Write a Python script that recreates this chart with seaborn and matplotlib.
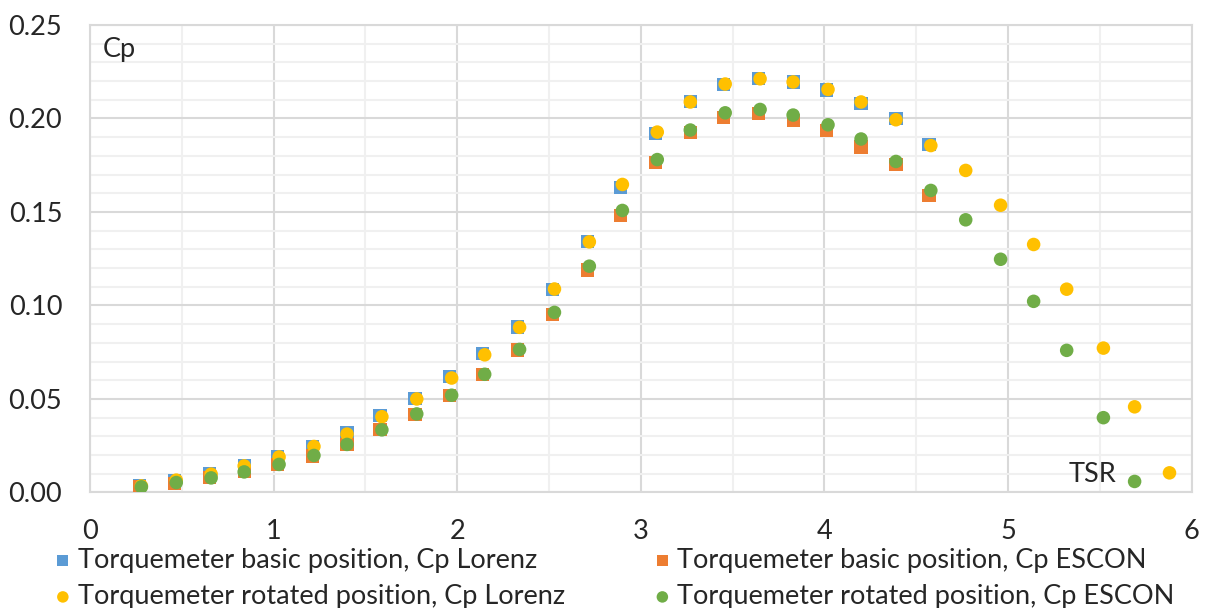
import matplotlib
matplotlib.use("Agg")
import matplotlib.pyplot as plt
import numpy as np
import pandas as pd
import seaborn as sns
from matplotlib.ticker import MultipleLocator

# TSR values (basic position measured slightly left of rotated ones)
tsr_basic = [0.27, 0.46, 0.65, 0.84, 1.02, 1.21, 1.40, 1.58, 1.77, 1.96, 2.14,
             2.33, 2.52, 2.71, 2.89, 3.08, 3.27, 3.45, 3.64, 3.83, 4.01, 4.20,
             4.39, 4.57]
tsr_rot = [0.28, 0.47, 0.66, 0.84, 1.03, 1.22, 1.40, 1.59, 1.78, 1.97, 2.15,
           2.34, 2.53, 2.72, 2.90, 3.09, 3.27, 3.46, 3.65, 3.83, 4.02, 4.20,
           4.39, 4.58, 4.77, 4.96, 5.14, 5.32, 5.52, 5.69, 5.88]

cp_basic_lorenz = [0.0035, 0.0062, 0.0100, 0.0142, 0.0190, 0.0248, 0.0318,
                   0.0410, 0.0502, 0.0618, 0.0742, 0.0885, 0.1085, 0.1340,
                   0.1630, 0.1918, 0.2090, 0.2180, 0.2212, 0.2195, 0.2152,
                   0.2078, 0.2000, 0.1860]
cp_basic_escon = [0.0030, 0.0050, 0.0078, 0.0110, 0.0148, 0.0195, 0.0255,
                  0.0335, 0.0418, 0.0518, 0.0630, 0.0762, 0.0950, 0.1190,
                  0.1480, 0.1765, 0.1925, 0.2005, 0.2025, 0.1990, 0.1936,
                  0.1847, 0.1752, 0.1590]
cp_rot_lorenz = [0.0035, 0.0066, 0.0098, 0.0142, 0.0190, 0.0246, 0.0312,
                 0.0405, 0.0500, 0.0612, 0.0736, 0.0883, 0.1088, 0.1340,
                 0.1647, 0.1927, 0.2088, 0.2184, 0.2212, 0.2195, 0.2155,
                 0.2088, 0.1993, 0.1855, 0.1722, 0.1536, 0.1326, 0.1087,
                 0.0772, 0.0458, 0.0105]
cp_rot_escon = [0.0030, 0.0053, 0.0078, 0.0110, 0.0150, 0.0198, 0.0257,
                0.0335, 0.0420, 0.0520, 0.0632, 0.0765, 0.0963, 0.1210,
                0.1508, 0.1780, 0.1938, 0.2030, 0.2048, 0.2018, 0.1966,
                0.1890, 0.1770, 0.1615, 0.1458, 0.1247, 0.1022, 0.0760,
                0.0400, 0.0059]

labels = ["Torquemeter basic position, Cp Lorenz",
          "Torquemeter basic position, Cp ESCON",
          "Torquemeter rotated position, Cp Lorenz",
          "Torquemeter rotated position, Cp ESCON"]
colors = ["#5B9BD5", "#ED7D31", "#FFC000", "#70AD47"]
markers = ["s", "s", "o", "o"]

sns.set_style("white")
plt.rcParams["font.family"] = ["Lato", "DejaVu Sans"]
FS = 19.5

series = [(tsr_basic, cp_basic_lorenz), (tsr_basic, cp_basic_escon),
          (tsr_rot, cp_rot_lorenz), (tsr_rot[:len(cp_rot_escon)], cp_rot_escon)]

fig = plt.figure(figsize=(12.06, 6.08), dpi=100)
ax = fig.add_axes([0.0746, 0.19, 0.9134, 0.769])

for (x, y), lab, c, m in zip(series, labels, colors, markers):
    df = pd.DataFrame({"TSR": x, "Cp": y})
    sns.scatterplot(data=df, x="TSR", y="Cp", ax=ax, color=c, marker=m,
                    s=95 if m == "o" else 90, edgecolor="none", label=lab,
                    zorder=3)

ax.set_xlim(0, 6)
ax.set_ylim(0, 0.25)
ax.xaxis.set_major_locator(MultipleLocator(1))
ax.xaxis.set_minor_locator(MultipleLocator(0.5))
ax.yaxis.set_major_locator(MultipleLocator(0.05))
ax.yaxis.set_minor_locator(MultipleLocator(0.01))
ax.yaxis.set_major_formatter(matplotlib.ticker.FormatStrFormatter("%.2f"))
ax.grid(which="major", color="#d9d9d9", linewidth=1.5)
ax.grid(which="minor", color="#f0f0f0", linewidth=1.5)
ax.set_axisbelow(True)
for sp in ax.spines.values():
    sp.set_color("#d9d9d9")
    sp.set_linewidth(1.5)
ax.tick_params(which="both", length=0, labelsize=FS)
ax.tick_params(axis="y", pad=20)
ax.tick_params(axis="x", pad=19)
ax.set_xlabel("")
ax.set_ylabel("")

ax.text(0.012, 0.975, "Cp", transform=ax.transAxes, fontsize=FS, va="top")
ax.text(0.888, 0.012, "TSR", transform=ax.transAxes, fontsize=FS, va="bottom")

h, l = ax.get_legend_handles_labels()
order = [0, 2, 1, 3]
ax.legend([h[i] for i in order], [l[i] for i in order], ncol=2,
          loc="upper left", bbox_to_anchor=(-0.032, -0.118), frameon=False,
          fontsize=FS, markerscale=0.85, handletextpad=0.25,
          handlelength=0.6, columnspacing=3.3, labelspacing=0.42,
          borderaxespad=0, borderpad=0)

fig.savefig("out.png", dpi=100)
